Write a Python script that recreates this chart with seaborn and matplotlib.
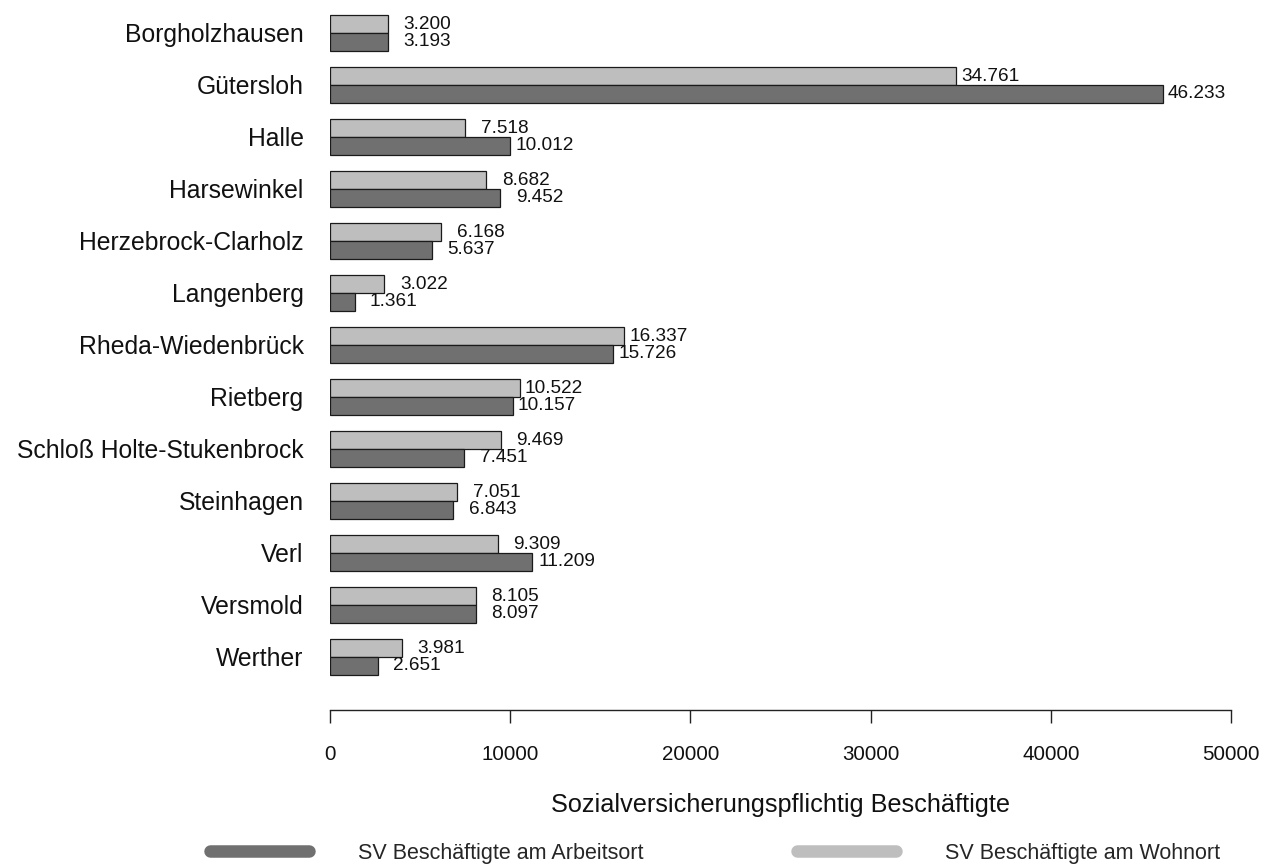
import matplotlib

matplotlib.use("Agg")
import matplotlib.pyplot as plt
from matplotlib.lines import Line2D
import pandas as pd
import seaborn as sns


ORTE = [
    "Borgholzhausen", "Gütersloh", "Halle", "Harsewinkel", "Herzebrock-Clarholz",
    "Langenberg", "Rheda-Wiedenbrück", "Rietberg", "Schloß Holte-Stukenbrock",
    "Steinhagen", "Verl", "Versmold", "Werther",
]
WOHNORT = [3200, 34761, 7518, 8682, 6168, 3022, 16337, 10522, 9469, 7051, 9309, 8105, 3981]
ARBEITSORT = [3193, 46233, 10012, 9452, 5637, 1361, 15726, 10157, 7451, 6843, 11209, 8097, 2651]
X_TICKS = [0, 10000, 20000, 30000, 40000, 50000]

LABEL_WOHN = "SV Beschäftigte am Wohnort"
LABEL_ARBEIT = "SV Beschäftigte am Arbeitsort"
LIGHT = "#bebebe"
DARK = "#707070"


def de_number(v: float) -> str:
    return f"{int(v):,}".replace(",", ".")


df = pd.concat(
    [
        pd.DataFrame({"ort": ORTE, "wert": WOHNORT, "art": LABEL_WOHN}),
        pd.DataFrame({"ort": ORTE, "wert": ARBEITSORT, "art": LABEL_ARBEIT}),
    ],
    ignore_index=True,
)

sns.set_style("white")
plt.rcParams["font.family"] = ["Liberation Sans", "DejaVu Sans"]

fig = plt.figure(figsize=(12.63, 8.66), dpi=100)
ax = fig.add_axes([330 / 1263, 156 / 866, 901 / 1263, 703 / 866])

sns.barplot(
    data=df,
    x="wert",
    y="ort",
    hue="art",
    hue_order=[LABEL_WOHN, LABEL_ARBEIT],
    palette=[LIGHT, DARK],
    width=0.68,
    edgecolor="#1a1a1a",
    linewidth=0.9,
    saturation=1,
    legend=False,
    ax=ax,
)

# value labels, right-aligned a fixed distance past the bar end
for container in ax.containers:
    for bar in container:
        w = bar.get_width()
        ax.annotate(
            de_number(w),
            xy=(w, bar.get_y() + bar.get_height() / 2),
            xytext=(45.5, 0),
            textcoords="offset points",
            ha="right",
            va="center",
            fontsize=13.7,
            color="#111111",
        )

ax.set_xlim(0, 50000)
ax.set_ylim(13.02, -0.5)
ax.set_xticks(X_TICKS)
ax.set_xticklabels([str(t) for t in X_TICKS])
ax.set_xlabel("Sozialversicherungspflichtig Beschäftigte", fontsize=18.2, labelpad=21, color="#111111")
ax.set_ylabel("")

for side in ["top", "right", "left"]:
    ax.spines[side].set_visible(False)
ax.spines["bottom"].set_bounds(0, 50000)
ax.spines["bottom"].set_color("#222222")
ax.spines["bottom"].set_linewidth(1.0)

ax.tick_params(axis="x", length=9.4, width=1.0, pad=16, labelsize=14.8,
               colors="#222222", labelcolor="#111111", direction="out", bottom=True)
ax.tick_params(axis="y", length=0, pad=19, labelsize=17.8, labelcolor="#111111")
ax.grid(False)

handles = [
    Line2D([0], [0], color=DARK, linewidth=9, solid_capstyle="round"),
    Line2D([0], [0], color=LIGHT, linewidth=9, solid_capstyle="round"),
]
fig.legend(
    handles,
    [LABEL_ARBEIT, LABEL_WOHN],
    loc="center",
    bbox_to_anchor=(715 / 1263, 1 - 853 / 866),
    ncol=2,
    frameon=False,
    fontsize=15.5,
    handlelength=4.6,
    handletextpad=2.3,
    columnspacing=7.1,
    borderaxespad=0,
    borderpad=0,
)

fig.savefig("out.png", dpi=100)
plt.close(fig)
